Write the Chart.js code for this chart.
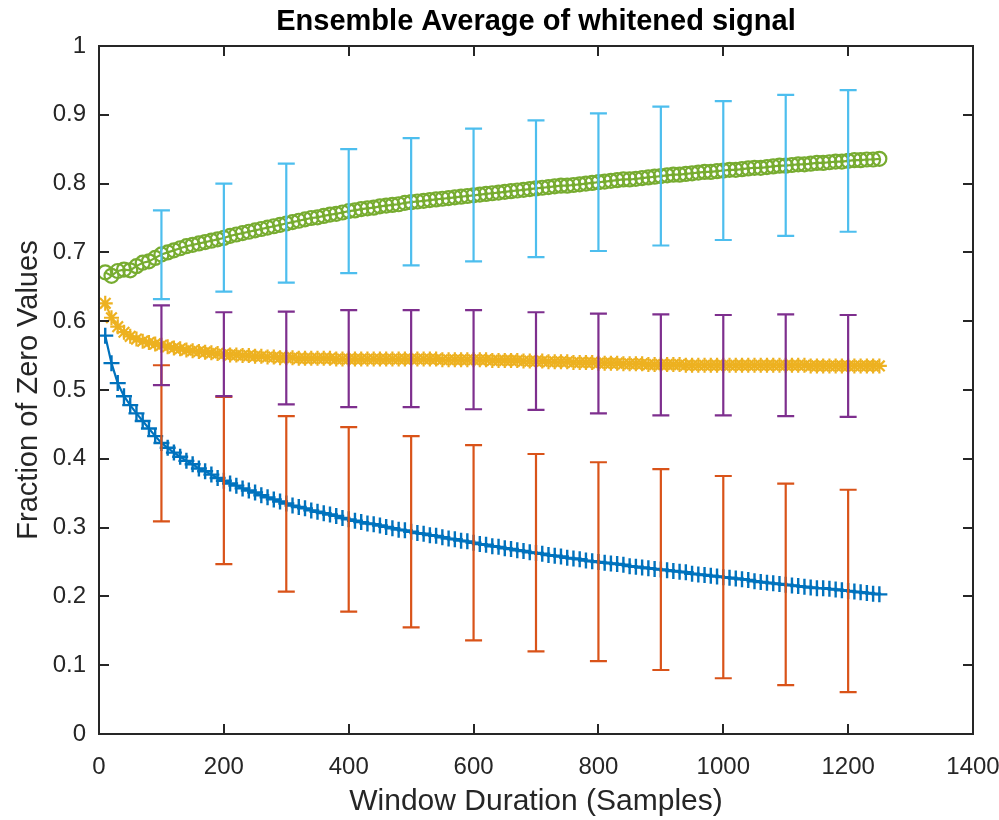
<!DOCTYPE html>
<html>
<head>
<meta charset="utf-8">
<script src="https://cdn.jsdelivr.net/npm/chart.js@4"></script>
<style>
  html, body { margin: 0; padding: 0; background: #fff; }
</style>
</head>
<body>
<canvas id="grafico" width="999" height="820"></canvas>
<script>
// window durations (samples)
const janelas = [
  10, 20, 30, 40, 50, 60, 70, 80, 90, 100,
  110, 120, 130, 140, 150, 160, 170, 180, 190, 200,
  210, 220, 230, 240, 250, 260, 270, 280, 290, 300,
  310, 320, 330, 340, 350, 360, 370, 380, 390, 400,
  410, 420, 430, 440, 450, 460, 470, 480, 490, 500,
  510, 520, 530, 540, 550, 560, 570, 580, 590, 600,
  610, 620, 630, 640, 650, 660, 670, 680, 690, 700,
  710, 720, 730, 740, 750, 760, 770, 780, 790, 800,
  810, 820, 830, 840, 850, 860, 870, 880, 890, 900,
  910, 920, 930, 940, 950, 960, 970, 980, 990, 1000,
  1010, 1020, 1030, 1040, 1050, 1060, 1070, 1080, 1090, 1100,
  1110, 1120, 1130, 1140, 1150, 1160, 1170, 1180, 1190, 1200,
  1210, 1220, 1230, 1240, 1250
];

const serieAzul = [
  0.579, 0.539, 0.510, 0.491, 0.478, 0.466, 0.455, 0.444, 0.433, 0.423,
  0.416, 0.409, 0.403, 0.397, 0.392, 0.386, 0.382, 0.377, 0.372, 0.368,
  0.364, 0.361, 0.357, 0.354, 0.351, 0.347, 0.344, 0.341, 0.338, 0.335,
  0.332, 0.330, 0.328, 0.325, 0.323, 0.321, 0.319, 0.317, 0.314, 0.312,
  0.310, 0.308, 0.306, 0.305, 0.303, 0.301, 0.299, 0.297, 0.296, 0.294,
  0.292, 0.291, 0.289, 0.288, 0.286, 0.284, 0.283, 0.281, 0.280, 0.278,
  0.276, 0.275, 0.273, 0.272, 0.270, 0.269, 0.267, 0.266, 0.264, 0.263,
  0.262, 0.260, 0.259, 0.258, 0.256, 0.255, 0.254, 0.252, 0.251, 0.250,
  0.249, 0.248, 0.247, 0.246, 0.244, 0.243, 0.242, 0.241, 0.240, 0.239,
  0.238, 0.237, 0.236, 0.235, 0.233, 0.232, 0.231, 0.230, 0.229, 0.228,
  0.227, 0.226, 0.225, 0.224, 0.222, 0.221, 0.220, 0.219, 0.218, 0.217,
  0.216, 0.215, 0.214, 0.213, 0.212, 0.212, 0.211, 0.210, 0.209, 0.208,
  0.207, 0.206, 0.205, 0.204, 0.203
];

const serieAmarela = [
  0.626, 0.605, 0.592, 0.584, 0.578, 0.574, 0.571, 0.569, 0.567, 0.565,
  0.563, 0.561, 0.560, 0.558, 0.557, 0.556, 0.555, 0.554, 0.553, 0.552,
  0.551, 0.551, 0.550, 0.550, 0.549, 0.549, 0.548, 0.548, 0.547, 0.547,
  0.547, 0.546, 0.546, 0.546, 0.546, 0.546, 0.546, 0.545, 0.545, 0.545,
  0.545, 0.545, 0.545, 0.545, 0.545, 0.545, 0.545, 0.545, 0.545, 0.545,
  0.545, 0.545, 0.545, 0.545, 0.544, 0.544, 0.544, 0.544, 0.544, 0.544,
  0.544, 0.544, 0.543, 0.543, 0.543, 0.543, 0.543, 0.542, 0.542, 0.542,
  0.542, 0.541, 0.541, 0.541, 0.541, 0.540, 0.540, 0.540, 0.540, 0.539,
  0.539, 0.539, 0.539, 0.538, 0.538, 0.538, 0.538, 0.537, 0.537, 0.537,
  0.537, 0.537, 0.537, 0.536, 0.536, 0.536, 0.536, 0.536, 0.536, 0.536,
  0.536, 0.536, 0.536, 0.536, 0.536, 0.536, 0.536, 0.536, 0.536, 0.536,
  0.536, 0.536, 0.536, 0.535, 0.535, 0.535, 0.535, 0.535, 0.535, 0.535,
  0.535, 0.535, 0.535, 0.535, 0.535
];

const serieVerde = [
  0.671, 0.666, 0.673, 0.675, 0.674, 0.680, 0.685, 0.687, 0.692, 0.697,
  0.700, 0.703, 0.706, 0.709, 0.711, 0.713, 0.715, 0.717, 0.719, 0.721,
  0.724, 0.726, 0.728, 0.730, 0.732, 0.734, 0.736, 0.738, 0.740, 0.742,
  0.744, 0.746, 0.748, 0.750, 0.751, 0.753, 0.755, 0.756, 0.758, 0.760,
  0.761, 0.763, 0.764, 0.765, 0.767, 0.768, 0.769, 0.770, 0.772, 0.773,
  0.774, 0.775, 0.776, 0.777, 0.778, 0.779, 0.780, 0.781, 0.782, 0.783,
  0.784, 0.785, 0.786, 0.787, 0.788, 0.789, 0.790, 0.791, 0.792, 0.793,
  0.794, 0.795, 0.796, 0.797, 0.797, 0.798, 0.799, 0.800, 0.801, 0.802,
  0.803, 0.804, 0.805, 0.806, 0.806, 0.807, 0.808, 0.809, 0.810, 0.811,
  0.812, 0.813, 0.813, 0.814, 0.815, 0.816, 0.817, 0.817, 0.818, 0.819,
  0.820, 0.820, 0.821, 0.822, 0.823, 0.823, 0.824, 0.825, 0.826, 0.826,
  0.827, 0.828, 0.828, 0.829, 0.830, 0.830, 0.831, 0.832, 0.832, 0.833,
  0.834, 0.834, 0.835, 0.835, 0.836
];

// error bars every 100 samples
const barrasX = [100, 200, 300, 400, 500, 600, 700, 800, 900, 1000, 1100, 1200];
const laranjaMin = [0.309, 0.247, 0.207, 0.178, 0.155, 0.136, 0.120, 0.106, 0.093, 0.081, 0.071, 0.061];
const laranjaMax = [0.536, 0.490, 0.462, 0.446, 0.433, 0.420, 0.407, 0.395, 0.385, 0.375, 0.364, 0.355];
const roxoMin = [0.507, 0.491, 0.479, 0.475, 0.475, 0.472, 0.471, 0.466, 0.463, 0.463, 0.462, 0.461];
const roxoMax = [0.623, 0.613, 0.614, 0.616, 0.616, 0.616, 0.613, 0.611, 0.610, 0.609, 0.610, 0.609];
const cianoMin = [0.632, 0.643, 0.656, 0.670, 0.681, 0.687, 0.693, 0.702, 0.710, 0.718, 0.724, 0.730];
const cianoMax = [0.761, 0.800, 0.829, 0.850, 0.866, 0.880, 0.892, 0.902, 0.912, 0.920, 0.929, 0.936];

const xTicks = [0, 200, 400, 600, 800, 1000, 1200, 1400];
const yTicks = [0, 0.1, 0.2, 0.3, 0.4, 0.5, 0.6, 0.7, 0.8, 0.9, 1];

const fonte = "'Liberation Sans', Arial, Helvetica, sans-serif";
const corEixo = '#262626';

const pontos = (ys) => janelas.map((x, i) => ({ x: x, y: ys[i] }));

// which error bars are painted right after which dataset (keeps matlab stacking)
const barras = [
  { depois: 0, min: laranjaMin, max: laranjaMax, cor: '#D95319' },
  { depois: 1, min: roxoMin, max: roxoMax, cor: '#7E2F8E' },
  { depois: 2, min: cianoMin, max: cianoMax, cor: '#4DBEEE' }
];

const errorBars = {
  id: 'errorBars',
  afterDatasetDraw(chart, args) {
    const sx = chart.scales.x, sy = chart.scales.y;
    const ctx = chart.ctx;
    barras.filter(b => b.depois === args.index).forEach(b => {
      ctx.save();
      ctx.strokeStyle = b.cor;
      ctx.lineWidth = 2.2;
      barrasX.forEach((x, i) => {
        const px = sx.getPixelForValue(x);
        const p0 = sy.getPixelForValue(b.min[i]);
        const p1 = sy.getPixelForValue(b.max[i]);
        ctx.beginPath();
        ctx.moveTo(px, p0); ctx.lineTo(px, p1);
        ctx.moveTo(px - 8.5, p0); ctx.lineTo(px + 8.5, p0);
        ctx.moveTo(px - 8.5, p1); ctx.lineTo(px + 8.5, p1);
        ctx.stroke();
      });
      ctx.restore();
    });
  }
};

// box around the axes with inward ticks on all four sides
const caixa = {
  id: 'caixa',
  afterDraw(chart) {
    const { left, right, top, bottom } = chart.chartArea;
    const sx = chart.scales.x, sy = chart.scales.y;
    const ctx = chart.ctx;
    const t = 10;
    ctx.save();
    ctx.strokeStyle = corEixo;
    ctx.lineWidth = 2;
    ctx.beginPath();
    xTicks.forEach(v => {
      const px = Math.round(sx.getPixelForValue(v));
      ctx.moveTo(px, bottom); ctx.lineTo(px, bottom - t);
      ctx.moveTo(px, top); ctx.lineTo(px, top + t);
    });
    yTicks.forEach(v => {
      const py = Math.round(sy.getPixelForValue(v));
      ctx.moveTo(left, py); ctx.lineTo(left + t, py);
      ctx.moveTo(right, py); ctx.lineTo(right - t, py);
    });
    ctx.stroke();
    ctx.strokeRect(left, top, right - left, bottom - top);
    ctx.restore();
  }
};

new Chart(document.getElementById('grafico'), {
  type: 'line',
  data: {
    datasets: [
      {
        data: pontos(serieAzul),
        borderColor: '#0072BD',
        borderWidth: 2.2,
        pointStyle: 'cross',
        pointRadius: 8,
        pointBorderWidth: 2.4,
        pointBorderColor: '#0072BD',
        pointBackgroundColor: 'transparent',
        order: 3
      },
      {
        data: pontos(serieAmarela),
        borderColor: '#EDB120',
        borderWidth: 2.2,
        pointStyle: 'star',
        pointRadius: 7.5,
        pointBorderWidth: 2.2,
        pointBorderColor: '#EDB120',
        pointBackgroundColor: 'transparent',
        order: 2
      },
      {
        data: pontos(serieVerde),
        borderColor: '#77AC30',
        borderWidth: 2.2,
        pointStyle: 'circle',
        pointRadius: 7,
        pointBorderWidth: 2.2,
        pointBorderColor: '#77AC30',
        pointBackgroundColor: 'transparent',
        order: 1
      }
    ]
  },
  options: {
    responsive: false,
    animation: false,
    devicePixelRatio: 1,
    layout: { padding: { left: 0, right: 26, top: 0, bottom: 0 } },
    elements: { line: { tension: 0 } },
    plugins: {
      legend: { display: false },
      tooltip: { enabled: false },
      title: {
        display: true,
        fullSize: false,
        text: 'Ensemble Average of whitened signal',
        color: '#000',
        font: { family: fonte, size: 29, weight: 'bold', lineHeight: 1.2 },
        padding: { top: 5, bottom: 6.2 }
      }
    },
    scales: {
      x: {
        type: 'linear',
        min: 0,
        max: 1400,
        afterBuildTicks: (s) => { s.ticks = xTicks.map(v => ({ value: v })); },
        afterFit: (s) => { s.height = 86; s.paddingLeft = 0; s.paddingRight = 0; },
        grid: { display: false, drawTicks: false },
        border: { display: false },
        ticks: {
          color: corEixo,
          padding: 19,
          maxRotation: 0,
          font: { family: fonte, size: 24 },
          callback: (v) => String(v)
        },
        title: {
          display: true,
          text: 'Window Duration (Samples)',
          color: corEixo,
          font: { family: fonte, size: 30, lineHeight: 1.2 },
          padding: { top: 0, bottom: 0 }
        }
      },
      y: {
        min: 0,
        max: 1,
        afterBuildTicks: (s) => { s.ticks = yTicks.map(v => ({ value: v })); },
        afterFit: (s) => { s.width = 99; s.paddingTop = 0; s.paddingBottom = 0; },
        grid: { display: false, drawTicks: false },
        border: { display: false },
        ticks: {
          color: corEixo,
          padding: 13,
          font: { family: fonte, size: 24 },
          callback: (v) => String(Math.round(v * 10) / 10)
        },
        title: {
          display: true,
          text: 'Fraction of Zero Values',
          color: corEixo,
          font: { family: fonte, size: 29, lineHeight: 1.2 },
          padding: { top: 12, bottom: 0 }
        }
      }
    }
  },
  plugins: [errorBars, caixa]
});
</script>
</body>
</html>
